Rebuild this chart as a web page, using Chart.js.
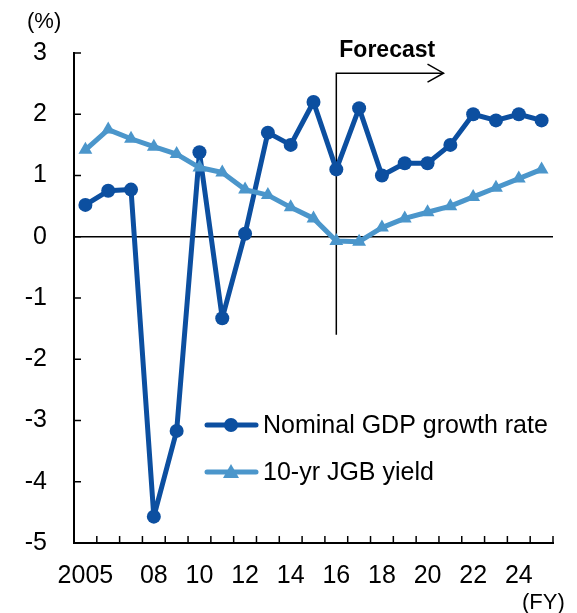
<!DOCTYPE html>
<html>
<head>
<meta charset="utf-8">
<script src="https://cdn.jsdelivr.net/npm/chart.js@4.4.1/dist/chart.umd.min.js"></script>
<style>
html,body{margin:0;padding:0;background:#fff;}
#wrap{width:577px;height:613px;position:relative;}
</style>
</head>
<body>
<div id="wrap"><canvas id="c" width="577" height="613"></canvas></div>
<script>
// ---- data ----
const years = ['2005','2006','2007','2008','2009','2010','2011','2012','2013','2014','2015','2016','2017','2018','2019','2020','2021','2022','2023','2024','2025'];
const xTickLabels = ['2005','','','08','','10','','12','','14','','16','','18','','20','','22','','24',''];
const nominalGdp = [0.52, 0.75, 0.77, -4.57, -3.17, 1.38, -1.33, 0.05, 1.70, 1.50, 2.20, 1.10, 2.10, 1.00, 1.20, 1.20, 1.50, 2.00, 1.90, 2.00, 1.90];
const jgbYield = [1.42, 1.75, 1.60, 1.47, 1.35, 1.13, 1.05, 0.77, 0.68, 0.48, 0.30, -0.07, -0.08, 0.15, 0.30, 0.40, 0.50, 0.65, 0.80, 0.95, 1.10];
const yTicks = [-5, -4, -3, -2, -1, 0, 1, 2, 3];
const seriesNames = ['Nominal GDP growth rate', '10-yr JGB yield'];
const forecastStartIndex = 11; // FY2016

const FONT = '"Liberation Sans", Arial, sans-serif';
const darkBlue = '#0C4FA0';
const lightBlue = '#4B96CB';

const overlay = {
  id: 'overlay',
  beforeDatasetsDraw(chart) {
    const {ctx, chartArea: a, scales: {x, y}} = chart;
    ctx.save();
    ctx.strokeStyle = '#000';
    ctx.lineWidth = 1.5;
    const y0 = y.getPixelForValue(0);
    ctx.beginPath(); ctx.moveTo(a.left, y0); ctx.lineTo(a.right, y0); ctx.stroke();
    yTicks.forEach(v => {
      const py = y.getPixelForValue(v);
      ctx.beginPath(); ctx.moveTo(a.left, py); ctx.lineTo(a.left + 7, py); ctx.stroke();
    });
    const n = years.length;
    for (let i = 1; i <= n; i++) {
      const px = a.left + i * (a.right - a.left) / n;
      ctx.beginPath(); ctx.moveTo(px, a.bottom); ctx.lineTo(px, a.bottom - 7); ctx.stroke();
    }
    const fx = x.getPixelForValue(forecastStartIndex);
    const topY = y.getPixelForValue(2.67);
    const botY = y.getPixelForValue(-1.6);
    const endX = x.getPixelForValue(forecastStartIndex + 4.7);
    ctx.lineWidth = 1.5;
    ctx.beginPath(); ctx.moveTo(fx, botY); ctx.lineTo(fx, topY); ctx.lineTo(endX, topY); ctx.stroke();
    ctx.beginPath(); ctx.moveTo(endX - 16, topY - 9); ctx.lineTo(endX, topY); ctx.lineTo(endX - 16, topY + 9); ctx.stroke();
    ctx.fillStyle = '#000';
    ctx.font = 'bold 23px ' + FONT;
    ctx.textAlign = 'left';
    ctx.textBaseline = 'alphabetic';
    ctx.fillText('Forecast', fx + 3, topY - 16);
    ctx.restore();
  },
  afterDraw(chart) {
    const {ctx} = chart;
    ctx.save();
    ctx.fillStyle = '#000';
    ctx.font = '22px ' + FONT;
    ctx.textAlign = 'left';
    ctx.textBaseline = 'middle';
    ctx.fillText('(%)', 27, 22);
    ctx.fillText('(FY)', 522, 603);
    const items = [
      {name: seriesNames[0], color: darkBlue, y: 425, shape: 'circle'},
      {name: seriesNames[1], color: lightBlue, y: 472, shape: 'triangle'}
    ];
    items.forEach(it => {
      ctx.strokeStyle = it.color; ctx.fillStyle = it.color; ctx.lineWidth = 5;
      ctx.lineCap = 'round';
      ctx.beginPath(); ctx.moveTo(207, it.y); ctx.lineTo(256, it.y); ctx.stroke();
      const cx = 231;
      ctx.beginPath();
      if (it.shape === 'circle') {
        ctx.arc(cx, it.y, 7, 0, Math.PI * 2);
      } else {
        ctx.moveTo(cx, it.y - 8); ctx.lineTo(cx + 8, it.y + 6); ctx.lineTo(cx - 8, it.y + 6); ctx.closePath();
      }
      ctx.fill();
      ctx.fillStyle = '#000';
      ctx.font = '25px ' + FONT;
      ctx.textBaseline = 'middle';
      ctx.fillText(it.name, 263, it.y + 1);
    });
    ctx.restore();
  }
};

new Chart(document.getElementById('c'), {
  type: 'line',
  data: {
    labels: years,
    datasets: [
      {label: seriesNames[0], data: nominalGdp, borderColor: darkBlue, backgroundColor: darkBlue,
       borderWidth: 5, borderJoinStyle: 'round', borderCapStyle: 'round',
       pointStyle: 'circle', pointRadius: 7, pointBorderWidth: 0, pointHoverRadius: 7, order: 2, tension: 0},
      {label: seriesNames[1], data: jgbYield, borderColor: lightBlue, backgroundColor: lightBlue,
       borderWidth: 5, borderJoinStyle: 'round', borderCapStyle: 'round',
       pointStyle: 'triangle', pointRadius: 8, pointBorderWidth: 0, pointHoverRadius: 8, order: 1, tension: 0}
    ]
  },
  options: {
    responsive: false,
    animation: false,
    layout: {padding: {top: 53, right: 24, left: 0, bottom: 0}},
    plugins: {legend: {display: false}, tooltip: {enabled: false}},
    scales: {
      x: {
        type: 'category', offset: true,
        grid: {display: false, drawTicks: false},
        border: {display: true, color: '#000', width: 2},
        ticks: {autoSkip: false, maxRotation: 0, minRotation: 0, padding: 18, color: '#000',
          font: {family: FONT, size: 25},
          callback: (v, i) => xTickLabels[i]},
        afterFit: s => { s.height = 70; }
      },
      y: {
        min: -5, max: 3,
        grid: {display: false, drawTicks: false},
        border: {display: true, color: '#000', width: 2},
        ticks: {stepSize: 1, padding: 27, color: '#000', font: {family: FONT, size: 25}},
        afterFit: s => { s.width = 74; }
      }
    }
  },
  plugins: [overlay]
});
</script>
</body>
</html>
